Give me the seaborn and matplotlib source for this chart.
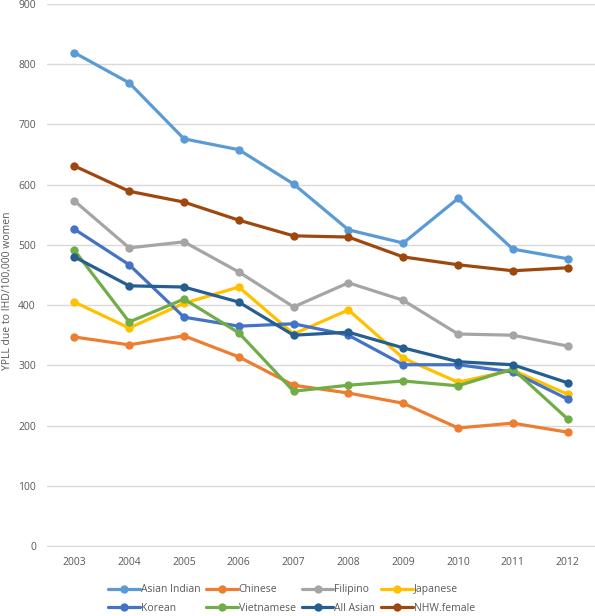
import matplotlib
matplotlib.use("Agg")
import matplotlib.pyplot as plt
import seaborn as sns
import pandas as pd

years = [2003, 2004, 2005, 2006, 2007, 2008, 2009, 2010, 2011, 2012]
asian_indian = [819, 769, 676, 658, 601, 525, 503, 577, 493, 477]
chinese = [347, 334, 349, 314, 267, 254, 237, 196, 204, 189]
filipino = [573, 495, 505, 455, 397, 437, 408, 352, 350, 332]
japanese = [405, 362, 403, 430, 352, 392, 312, 272, 292, 252]
korean = [526, 467, 380, 365, 369, 350, 301, 301, 289, 244]
vietnamese = [491, 372, 410, 354, 257, 267, 274, 266, 294, 211]
all_asian = [480, 432, 430, 405, 350, 355, 329, 306, 301, 271]
nhw_female = [631, 589, 571, 541, 515, 513, 480, 467, 457, 462]

series_names = ["Asian Indian", "Chinese", "Filipino", "Japanese",
                "Korean", "Vietnamese", "All Asian", "NHW.female"]
series_values = [asian_indian, chinese, filipino, japanese,
                 korean, vietnamese, all_asian, nhw_female]
colors = ["#5B9BD5", "#ED7D31", "#A5A5A5", "#FFC000",
          "#4472C4", "#70AD47", "#255E91", "#9E480E"]
y_ticks = [0, 100, 200, 300, 400, 500, 600, 700, 800, 900]
y_label = "YPLL due to IHD/100,000 women"

rows = []
for name, vals in zip(series_names, series_values):
    for yr, v in zip(years, vals):
        rows.append({"Year": yr, "Value": v, "Group": name})
df = pd.DataFrame(rows)

sns.set_style("white")
plt.rcParams["font.family"] = ["Open Sans", "DejaVu Sans"]

fig = plt.figure(figsize=(5.95, 6.16), dpi=100)
ax = fig.add_axes([0.079, 0.1136, 0.921, 0.88])

sns.lineplot(data=df, x="Year", y="Value", hue="Group", hue_order=series_names,
             palette=dict(zip(series_names, colors)), marker="o", markersize=6,
             markeredgewidth=0, linewidth=2.3, ax=ax, legend=True)

ax.set_xlim(years[0] - 0.5, years[-1] + 0.5)
ax.set_ylim(0, 900)
ax.set_yticks(y_ticks)
ax.set_xticks(years)
ax.set_xticklabels([str(y) for y in years])
ax.yaxis.grid(True, color="#D9D9D9", linewidth=1)
ax.set_axisbelow(True)
for s in ["top", "right", "left"]:
    ax.spines[s].set_visible(False)
ax.spines["bottom"].set_color("#D9D9D9")
ax.tick_params(axis="both", length=0, labelsize=7.5, colors="#595959", pad=8)
ax.set_xlabel("")
ax.set_ylabel(y_label, fontsize=7.5, color="#595959")
ax.yaxis.set_label_coords(-0.062, 0.47)

handles, labels = ax.get_legend_handles_labels()
ax.get_legend().remove()
order = [0, 4, 1, 5, 2, 6, 3, 7]
fig.legend([handles[i] for i in order], [labels[i] for i in order],
           loc="lower center", bbox_to_anchor=(0.49, -0.012), ncol=4,
           frameon=False, fontsize=7.5, labelcolor="#595959", handlelength=3,
           columnspacing=0.6, handletextpad=0.1, labelspacing=0.75)

fig.savefig("out.png", dpi=100)
